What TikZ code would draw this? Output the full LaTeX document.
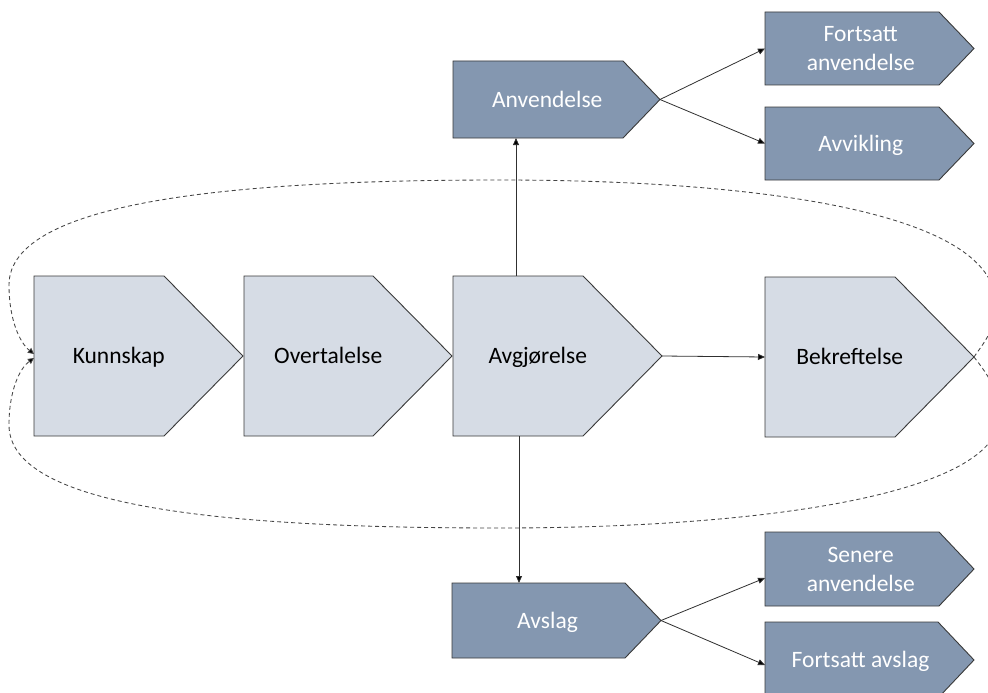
\documentclass[tikz,border=0pt]{standalone}
\usepackage{fontspec}
\setmainfont{Carlito}
\usetikzlibrary{arrows.meta,calc}

\definecolor{paleblue}{HTML}{D6DCE5}
\definecolor{slateblue}{HTML}{8497B0}
\definecolor{edgegray}{HTML}{3A3A3A}
\definecolor{linegray}{HTML}{303030}
\definecolor{dashgray}{HTML}{454545}

\tikzset{
  lightplate/.style={fill=paleblue, draw=edgegray, line width=0.9pt, line join=miter},
  darkplate/.style={fill=slateblue, draw=edgegray, line width=0.9pt, line join=miter},
  lighttext/.style={text=black, font=\fontsize{23.5}{29}\selectfont, align=center, inner sep=0pt},
  darktext/.style={text=white, font=\fontsize{23.5}{29}\selectfont, align=center, inner sep=0pt},
  oneline/.style={text height=15pt, text depth=0pt},
  twoline/.style={},
  flow/.style={draw=linegray, line width=0.8pt, -{Triangle[length=7pt,width=6pt,fill=black]}},
  cycleline/.style={draw=dashgray, line width=0.85pt, dash pattern=on 4pt off 3pt,
    -{Triangle[length=6pt,width=6pt,fill=black,sep=0pt]}},
}

% Home-plate box: [text style]{name}{left}{top}{width}{height}{point depth}{light/dark}{text}
\newcommand{\plate}[9][oneline]{%
  \draw[#8plate] (#3,#4) -- (#3+#5-#7,#4) -- (#3+#5,#4+#6/2) -- (#3+#5-#7,#4+#6)
    -- (#3,#4+#6) -- cycle;
  \coordinate (#2-nw) at (#3,#4);
  \coordinate (#2-sw) at (#3,#4+#6);
  \coordinate (#2-w) at (#3,#4+#6/2);
  \coordinate (#2-e) at (#3+#5,#4+#6/2);
  \node[#8text,#1] (#2) at ({#3+(2*#5-#7)/4},{#4+#6/2}) {#9};
}

\begin{document}
\begin{tikzpicture}[x=1pt,y=-1pt]
  \useasboundingbox (0,0) rectangle (988,693);
  \fill[white] (0,0) rectangle (988,693);

  % main sequence
  \plate{kun}{34}{276}{209}{160}{79}{light}{Kunnskap}
  \plate{ove}{244}{276}{208}{160}{79}{light}{Overtalelse}
  \plate{avg}{453}{276}{209}{160}{79}{light}{Avgjørelse}
  \plate{bek}{765}{277}{209}{160}{79}{light}{Bekreftelse}

  % upper branch
  \plate{anv}{453}{61}{207}{77}{37}{dark}{Anvendelse}
  \plate[twoline]{fan}{765}{12}{209}{73}{35}{dark}{Fortsatt\\anvendelse}
  \plate{avv}{765}{107}{209}{73}{35}{dark}{Avvikling}

  % lower branch
  \plate{avs}{452}{583}{209}{75}{36}{dark}{Avslag}
  \plate[twoline]{sen}{765}{532}{209}{74}{35}{dark}{Senere\\anvendelse}
  \plate{fav}{765}{622}{209}{76}{36}{dark}{Fortsatt avslag}

  % loop from confirmation back to knowledge
  \draw[cycleline] (bek-e) .. controls (982,345) and (996,330) .. (996,305)
    .. controls (996,210) and (750,180) .. (500,180)
    .. controls (240,180) and (9,200) .. (9,285)
    .. controls (9,320) and (20,343) .. ([yshift=2pt]kun-w);
  \draw[cycleline] (bek-e) .. controls (984,370) and (1000,390) .. (1000,415)
    .. controls (1000,495) and (760,528) .. (500,528)
    .. controls (240,528) and (9,510) .. (9,425)
    .. controls (9,390) and (20,368) .. ([yshift=-2pt]kun-w);

  % decision connectors
  \draw[flow] (avg-e) -- (bek-w);
  \draw[flow] ([xshift=63pt]avg-nw) -- ([xshift=63pt]anv-sw);
  \draw[flow] ([xshift=66pt]avg-sw) -- ([xshift=67pt]avs-nw);
  \draw[flow] (anv-e) -- (fan-w);
  \draw[flow] (anv-e) -- (avv-w);
  \draw[flow] (avs-e) -- ([yshift=-9pt]sen-w);
  \draw[flow] (avs-e) -- ([yshift=-5pt]fav-w);
\end{tikzpicture}
\end{document}
